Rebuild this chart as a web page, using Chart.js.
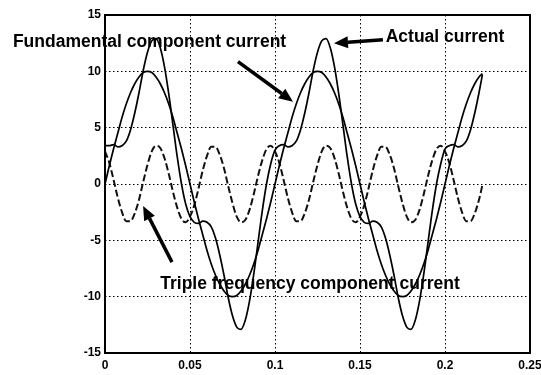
<!DOCTYPE html>
<html><head><meta charset="utf-8">
<script src="https://cdn.jsdelivr.net/npm/chart.js@4"></script>
<style>html,body{margin:0;padding:0;background:#fff}#wrap{width:541px;height:375px}</style>
</head><body><div id="wrap"><canvas id="c" width="541" height="375"></canvas></div>
<script>
const xValues=[0,0.0025,0.005,0.0075,0.01,0.0125,0.015,0.0175,0.02,0.0225,0.025,0.0275,0.03,0.0325,0.035,0.0375,0.04,0.0425,0.045,0.0475,0.05,0.0525,0.055,0.0575,0.06,0.0625,0.065,0.0675,0.07,0.0725,0.075,0.0775,0.08,0.0825,0.085,0.0875,0.09,0.0925,0.095,0.0975,0.1,0.1025,0.105,0.1075,0.11,0.1125,0.115,0.1175,0.12,0.1225,0.125,0.1275,0.13,0.1325,0.135,0.1375,0.14,0.1425,0.145,0.1475,0.15,0.1525,0.155,0.1575,0.16,0.1625,0.165,0.1675,0.17,0.1725,0.175,0.1775,0.18,0.1825,0.185,0.1875,0.19,0.1925,0.195,0.1975,0.2,0.2025,0.205,0.2075,0.21,0.2125,0.215,0.2175,0.22,0.222];
const fundamental=[0,1.6,3.1,4.5,5.9,7.1,8.1,8.9,9.5,9.9,10,9.9,9.5,8.9,8.1,7.1,5.9,4.5,3.1,1.6,0,-1.6,-3.1,-4.5,-5.9,-7.1,-8.1,-8.9,-9.5,-9.9,-10,-9.9,-9.5,-8.9,-8.1,-7.1,-5.9,-4.5,-3.1,-1.6,
0,1.6,3.1,4.5,5.9,7.1,8.1,8.9,9.5,9.9,10,9.9,9.5,8.9,8.1,7.1,5.9,4.5,3.1,1.6,0,-1.6,-3.1,-4.5,-5.9,-7.1,-8.1,-8.9,-9.5,-9.9,-10,-9.9,-9.5,-8.9,-8.1,-7.1,-5.9,-4.5,-3.1,-1.6,
0,1.6,3.1,4.5,5.9,7.1,8.1,8.9,9.5,9.8];
const triple=[2.9,1.9,0.4,-1.2,-2.5,-3.3,-3.3,-2.6,-1.4,0.2,1.7,2.9,3.4,3.2,2.3,0.9,-0.7,-2.1,-3.1,-3.4,-2.9,-1.9,-0.4,1.2,2.5,3.3,3.3,2.6,1.4,-0.2,-1.7,-2.9,-3.4,-3.2,-2.3,-0.9,0.7,2.1,3.1,3.4,
2.9,1.9,0.4,-1.2,-2.5,-3.3,-3.3,-2.6,-1.4,0.2,1.7,2.9,3.4,3.2,2.3,0.9,-0.7,-2.1,-3.1,-3.4,-2.9,-1.9,-0.4,1.2,2.5,3.3,3.3,2.6,1.4,-0.2,-1.7,-2.9,-3.4,-3.2,-2.3,-0.9,0.7,2.1,3.1,3.4,
2.9,1.9,0.4,-1.2,-2.5,-3.3,-3.3,-2.6,-1.4,-0.1];
const actual=[3.4,3.4,3.5,3.3,3.4,3.8,4.8,6.3,8.1,10.1,11.7,12.7,12.9,12.1,10.4,8.0,5.2,2.4,0,-1.8,-2.9,-3.4,-3.5,-3.3,-3.4,-3.8,-4.8,-6.3,-8.1,-10.1,-11.7,-12.7,-12.9,-12.1,-10.4,-8.0,-5.2,-2.4,0,1.8,
3.0,3.4,3.5,3.3,3.4,3.8,4.8,6.3,8.1,10.1,11.7,12.7,12.9,12.1,10.4,8.0,5.2,2.4,0,-1.8,-2.9,-3.4,-3.5,-3.3,-3.4,-3.8,-4.8,-6.3,-8.1,-10.1,-11.7,-12.7,-12.9,-12.1,-10.4,-8.0,-5.2,-2.4,0,1.8,
3.1,3.4,3.5,3.3,3.4,3.8,4.8,6.3,8.1,9.7];
const xTickValues=[0,0.05,0.1,0.15,0.2,0.25];
const xTickLabels=['0','0.05','0.1','0.15','0.2','0.25'];
const yTickValues=[-15,-10,-5,0,5,10,15];
const yTickLabels=['-15','-10','-5','0','5','10','15'];
const labelTexts=['Fundamental component current','Actual current','Triple frequency component current'];

// annotation placement (data units)
const notes=[
  {text:labelTexts[0], x:0.0262, y:12.55, from:[0.0782,10.86], to:[0.1106,7.3]},
  {text:labelTexts[1], x:0.2,    y:13.0,  from:[0.1635,12.8], to:[0.1347,12.5]},
  {text:labelTexts[2], x:0.1206, y:-8.9,  from:[0.0394,-6.93], to:[0.0224,-1.95]}
];

const pts=(ys)=>xValues.map((x,i)=>({x:x,y:ys[i]}));

const overlay={
  id:'overlay',
  afterDatasetsDraw(chart){
    const {ctx,chartArea:a,scales:{x,y}}=chart;
    ctx.save();
    ctx.strokeStyle='#000';ctx.lineWidth=2;ctx.setLineDash([]);
    ctx.strokeRect(a.left,a.top,a.right-a.left,a.bottom-a.top);
    ctx.fillStyle='#000';
    ctx.font='bold 17.5px "Liberation Sans", Arial, sans-serif';
    ctx.textAlign='center';ctx.textBaseline='middle';
    notes.forEach(n=>{
      ctx.fillText(n.text,x.getPixelForValue(n.x),y.getPixelForValue(n.y));
      const x1=x.getPixelForValue(n.from[0]),y1=y.getPixelForValue(n.from[1]);
      const x2=x.getPixelForValue(n.to[0]),y2=y.getPixelForValue(n.to[1]);
      const ang=Math.atan2(y2-y1,x2-x1),hl=14,hw=6;
      const bx=x2-hl*Math.cos(ang),by=y2-hl*Math.sin(ang);
      ctx.lineWidth=3.5;ctx.beginPath();ctx.moveTo(x1,y1);ctx.lineTo(bx,by);ctx.stroke();
      ctx.beginPath();ctx.moveTo(x2,y2);
      ctx.lineTo(bx+hw*Math.sin(ang),by-hw*Math.cos(ang));
      ctx.lineTo(bx-hw*Math.sin(ang),by+hw*Math.cos(ang));
      ctx.closePath();ctx.fill();
    });
    ctx.restore();
  }
};

const tickFont={family:'"Liberation Sans", Arial, sans-serif',size:12,weight:'bold'};
new Chart(document.getElementById('c'),{
  type:'line',
  data:{datasets:[
    {label:'Actual current',data:pts(actual),borderColor:'#000',borderWidth:1.7,pointRadius:0,fill:false,cubicInterpolationMode:'monotone'},
    {label:'Fundamental component current',data:pts(fundamental),borderColor:'#000',borderWidth:1.7,pointRadius:0,fill:false,cubicInterpolationMode:'monotone'},
    {label:'Triple frequency component current',data:pts(triple),borderColor:'#111',borderWidth:2,borderDash:[7,3],pointRadius:0,fill:false,cubicInterpolationMode:'monotone'}
  ]},
  options:{
    responsive:false,animation:false,devicePixelRatio:1,
    layout:{padding:{top:15,right:11,left:0,bottom:0}},
    plugins:{legend:{display:false},tooltip:{enabled:false}},
    scales:{
      x:{type:'linear',min:0,max:0.25,
        afterBuildTicks:s=>{s.ticks=xTickValues.map(v=>({value:v}));},
        afterFit:s=>{s.height=22;s.paddingLeft=0;s.paddingRight=0;},
        ticks:{autoSkip:false,maxRotation:0,padding:5,color:'#000',font:tickFont,callback:(v,i)=>xTickLabels[i]},
        grid:{color:'#000',lineWidth:1,drawTicks:false},
        border:{display:false,dash:[1.5,2.5]}},
      y:{type:'linear',min:-15,max:15,
        afterBuildTicks:s=>{s.ticks=yTickValues.map(v=>({value:v}));},
        afterFit:s=>{s.width=105;s.paddingTop=0;s.paddingBottom=0;},
        ticks:{autoSkip:false,padding:4,color:'#000',font:tickFont,callback:(v,i)=>yTickLabels[i]},
        grid:{color:'#000',lineWidth:1,drawTicks:false},
        border:{display:false,dash:[1.5,2.5]}}
    }
  },
  plugins:[overlay]
});
</script></body></html>
